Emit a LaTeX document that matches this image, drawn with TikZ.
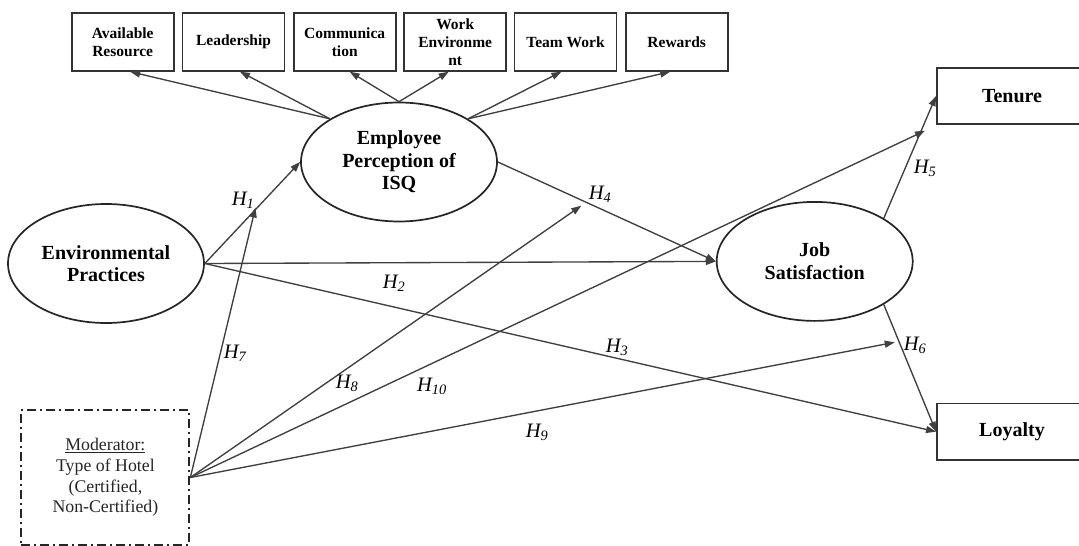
\documentclass[tikz,border=0pt]{standalone}
\usepackage{fontspec}
\setmainfont{Liberation Serif}
\usetikzlibrary{arrows.meta,shapes.geometric}

\begin{document}
\begin{tikzpicture}[x=1pt,y=-1pt,
  conn/.style={draw=black!75, line width=1.35pt, -{Triangle[length=10pt,width=7pt]}},
  construct/.style={ellipse, draw=black!85, line width=1.7pt, minimum width=196pt,
    minimum height=119pt, inner sep=0pt, align=center,
    font=\fontsize{20}{22.5}\selectfont\bfseries},
  dimbox/.style={rectangle, draw=black!80, line width=1.9pt, minimum width=102pt,
    minimum height=57.5pt, inner sep=0pt, align=center,
    font=\fontsize{15.5}{18}\selectfont\bfseries},
  outbox/.style={rectangle, draw=black!80, line width=1.9pt, minimum width=150pt,
    minimum height=56.5pt, inner sep=0pt, font=\fontsize{20}{22}\selectfont\bfseries},
  modbox/.style={rectangle, draw=black!85, line width=1.9pt,
    dash pattern=on 9pt off 4pt on 2pt off 4pt, minimum width=168pt,
    minimum height=135pt, inner sep=0pt, align=center, text=black!85,
    font=\fontsize{17.8}{20.6}\selectfont},
  hyp/.style={anchor=base, inner sep=0pt, font=\fontsize{20.5}{22}\selectfont\itshape}
]
\useasboundingbox (0,0) rectangle (1079,546);
\fill[white] (0,0) rectangle (1079,546);
\clip (0,0) rectangle (1079,546);

% service-quality dimensions
\node[dimbox] (b1) at (122.7,42) {Available\\Resource};
\node[dimbox] (b2) at (233.5,42) {Leadership};
\node[dimbox] (b3) at (344.7,42) {Communica\\tion};
\node[dimbox] (b4) at (455.2,42) {Work\\Environme\\nt};
\node[dimbox] (b5) at (565.5,42) {Team Work};
\node[dimbox] (b6) at (676.7,42) {Rewards};

% constructs
\node[construct] (isq) at (399,162) {Employee\\Perception of\\ISQ};
\node[construct] (ep)  at (106,263.5) {Environmental\\Practices};
\node[construct] (js)  at (814.7,261.4) {Job\\Satisfaction};

% outcomes
\node[outbox] (ten) at (1012,96) {Tenure};
\node[outbox] (loy) at (1012,431.7) {Loyalty};

% moderator
\node[modbox] (mod) at (105.4,477.5)
  {\underline{Moderator:}\\Type of Hotel\\(Certified,\\Non-Certified)};

% measurement arrows
\draw[conn] (isq.148) -- ([xshift=7.5pt]b1.south);
\draw[conn] (isq.148) -- ([xshift=6.5pt]b2.south);
\draw[conn] (isq.north) -- ([xshift=5pt]b3.south);
\draw[conn] (isq.north) -- ([xshift=-6.5pt]b4.south);
\draw[conn] (isq.32) -- ([xshift=-4pt]b5.south);
\draw[conn] (isq.32) -- ([xshift=-6.5pt]b6.south);

% structural paths
\draw[conn] (ep.east) -- (isq.west);
\draw[conn] (ep.east) -- (js.west);
\draw[conn] (ep.east) -- (loy.west);
\draw[conn] (isq.east) -- (js.west);
\draw[conn] (js.32) -- (ten.west);
\draw[conn] (js.-32) -- (loy.west);

% moderating effects aimed at the paths
\coordinate (m7)  at (255.5,207.5);
\coordinate (m8)  at (581.3,205.7);
\coordinate (m10) at (925,130.7);
\coordinate (m9)  at (894.7,342.3);
\draw[conn] (mod.east) -- (m7);
\draw[conn] (mod.east) -- (m8);
\draw[conn] (mod.east) -- (m10);
\draw[conn] (mod.east) -- (m9);

% hypothesis labels
\node[hyp] (h1)  at (243,205) {H\textsubscript{1}};
\node[hyp] (h2)  at (394,288) {H\textsubscript{2}};
\node[hyp] (h3)  at (617,352) {H\textsubscript{3}};
\node[hyp] (h4)  at (600,199) {H\textsubscript{4}};
\node[hyp] (h5)  at (925,173) {H\textsubscript{5}};
\node[hyp] (h6)  at (915,350) {H\textsubscript{6}};
\node[hyp] (h7)  at (235,358) {H\textsubscript{7}};
\node[hyp] (h8)  at (347,388) {H\textsubscript{8}};
\node[hyp] (h10) at (432,391) {H\textsubscript{10}};
\node[hyp] (h9)  at (537,437) {H\textsubscript{9}};
\end{tikzpicture}
\end{document}
